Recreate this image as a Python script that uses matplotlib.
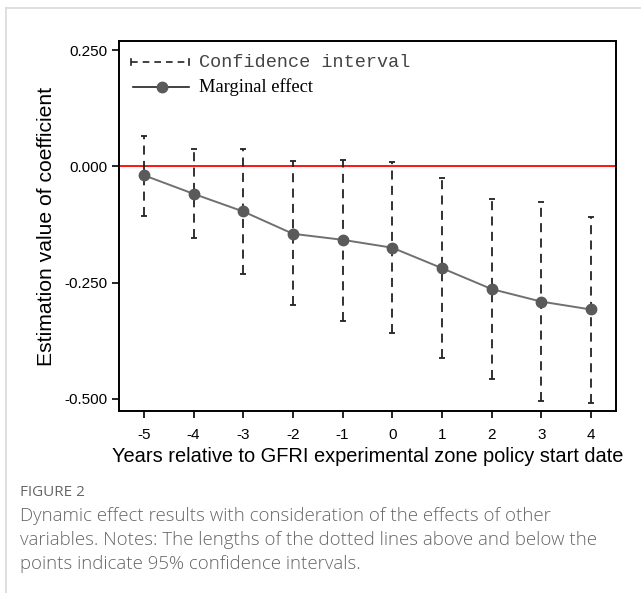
import matplotlib
matplotlib.use("Agg")
import matplotlib.pyplot as plt
from matplotlib.lines import Line2D
import numpy as np

years = [-5, -4, -3, -2, -1, 0, 1, 2, 3, 4]
effect = [-0.019, -0.059, -0.097, -0.145, -0.158, -0.175, -0.219, -0.264, -0.291, -0.308]
ci_upper = [0.065, 0.037, 0.037, 0.011, 0.014, 0.009, -0.025, -0.071, -0.076, -0.108]
ci_lower = [-0.106, -0.155, -0.232, -0.298, -0.332, -0.358, -0.413, -0.457, -0.506, -0.509]
yticks = [0.25, 0.0, -0.25, -0.5]
ytick_labels = ["0.250", "0.000", "-0.250", "-0.500"]

plt.rcParams['font.family'] = ['Liberation Sans', 'DejaVu Sans']

fig = plt.figure(figsize=(6.41, 5.93), dpi=100)
ax = fig.add_axes([0.1857, 0.3069, 0.775, 0.624])

# page border lines (light gray)
fig.add_artist(Line2D([6/641, 1.0], [1-8/593, 1-8/593], color='#d9d9d9', lw=1.2))
fig.add_artist(Line2D([6/641, 6/641], [0, 1-8/593], color='#d9d9d9', lw=1.2))

ax.axhline(0, color='#ff0000', lw=1.3, zorder=1)

x = np.array(years)
eff = np.array(effect)
lo = np.array(ci_lower)
hi = np.array(ci_upper)
ax.vlines(x, lo, hi, colors='#222222', linestyles=(0, (5, 3.5)), lw=1.3, zorder=2)
ax.hlines(hi, x - 0.06, x + 0.06, colors='#222222', lw=1.3, zorder=2)
ax.hlines(lo, x - 0.06, x + 0.06, colors='#222222', lw=1.3, zorder=2)
ax.plot(x, eff, color='#707070', lw=1.4, marker='o', ms=7.5, mfc='#5a5a5a', mec='#5a5a5a', zorder=3)

ax.set_xlim(-5.5, 4.5)
ax.set_ylim(-0.5265, 0.270)
ax.set_xticks(years)
ax.set_xticklabels([str(v) for v in years])
ax.set_yticks(yticks)
ax.set_yticklabels(ytick_labels)
ax.tick_params(direction='out', length=5, width=1.2, labelsize=11, colors='black', pad=3)
ax.tick_params(axis='x', pad=7)
for s in ax.spines.values():
    s.set_linewidth(1.4)
    s.set_color('black')

ax.set_xlabel("Years relative to GFRI experimental zone policy start date", fontsize=14.4, labelpad=4)
ax.set_ylabel("Estimation value of coefficient", fontsize=15.2, labelpad=6)

# manual legend
tr = ax.transAxes
ax.plot([0.024, 0.141], [0.943, 0.943], transform=tr, color='#222222', lw=1.2,
        ls=(0, (4, 3)), clip_on=False)
ax.plot([0.024, 0.024], [0.935, 0.951], transform=tr, color='#222222', lw=1.2)
ax.plot([0.141, 0.141], [0.935, 0.951], transform=tr, color='#222222', lw=1.2)
ax.text(0.161, 0.943, "Confidence interval", transform=tr, fontsize=13.3,
        family=['Liberation Mono', 'DejaVu Sans Mono'], color='#444444', va='center', ha='left')
ax.plot([0.028, 0.141], [0.876, 0.876], transform=tr, color='#222222', lw=1.2)
ax.plot([0.0865], [0.876], transform=tr, marker='o', ms=7.5, mfc='#5a5a5a', mec='#5a5a5a')
ax.text(0.161, 0.876, "Marginal effect", transform=tr, fontsize=13.3,
        family=['Liberation Serif', 'DejaVu Serif'], color='black', va='center', ha='left')

# caption
cap_font = ['Open Sans', 'DejaVu Sans']
fig.text(20/641, 1-493/593, "FIGURE 2", fontsize=11, color='#666666', family=cap_font,
         va='center', ha='left', weight='medium')
cap_lines = ["Dynamic effect results with consideration of the effects of other",
             "variables. Notes: The lengths of the dotted lines above and below the",
             "points indicate 95% confidence intervals."]
for i, line in enumerate(cap_lines):
    fig.text(20/641, 1-(516+24*i)/593, line, fontsize=13.4, color='#666666', family=cap_font,
             va='center', ha='left', weight='light')

fig.savefig("out.png", dpi=100)
